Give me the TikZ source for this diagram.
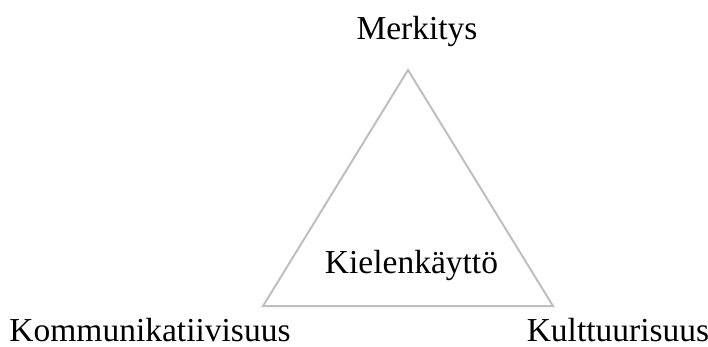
\documentclass[tikz,border=0pt]{standalone}
\usepackage{fontspec}
\setmainfont{Liberation Serif}
\begin{document}
\begin{tikzpicture}[x=1pt,y=-1pt,
  lbl/.style={inner sep=0pt,font=\fontsize{33.5}{38}\selectfont,anchor=base},
  side/.style={draw={rgb,255:red,191;green,191;blue,191},line width=2pt,line join=miter}]
\useasboundingbox (0,0) rectangle (708,347);
\coordinate (top) at (408,70);
\coordinate (bl) at (263,306);
\coordinate (br) at (553,306);
\draw[side] (top) -- (bl) -- (br) -- cycle;
\node[lbl] (m) at (417,40) {Merkitys};
\node[lbl] (k) at (411.5,273) {Kielenkäyttö};
\node[lbl] (ko) at (150,341) {Kommunikatiivisuus};
\node[lbl] (ku) at (618,341) {Kulttuurisuus};
\end{tikzpicture}
\end{document}
